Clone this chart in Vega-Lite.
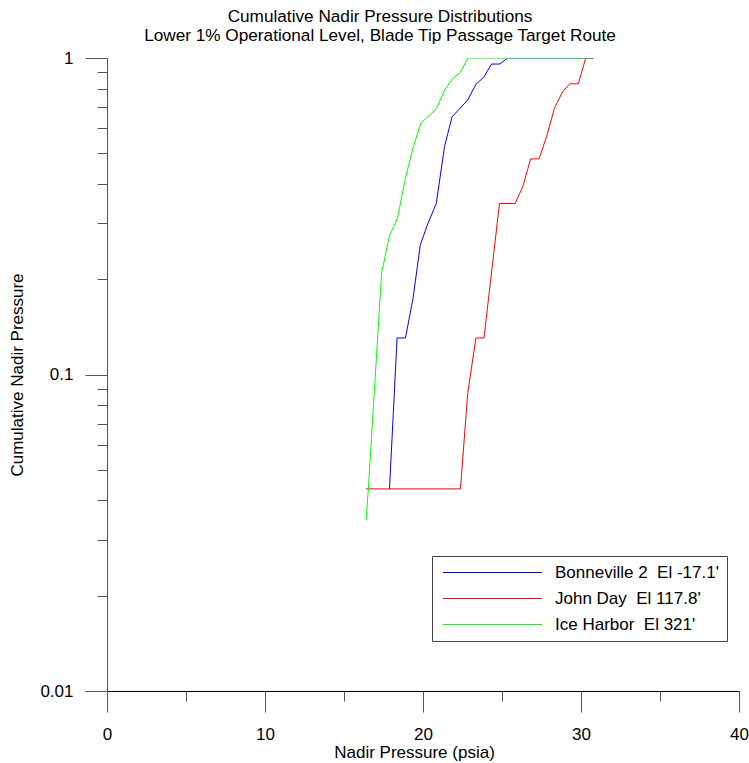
{
  "$schema": "https://vega.github.io/schema/vega-lite/v6.json",
  "autosize": {"type": "none"},
  "padding": {"left": 107, "top": 58, "right": 10, "bottom": 72},
  "width": 632,
  "height": 633,
  "background": "white",
  "config": {
    "font": "Liberation Sans",
    "view": {"stroke": null},
    "axis": {"grid": false, "domainColor": "#000", "tickColor": "#555", "labelColor": "#000", "titleColor": "#000", "labelFont": "Liberation Sans", "titleFont": "Liberation Sans", "labelFontSize": 17, "titleFontSize": 17, "titleFontWeight": "normal"}
  },
  "title": {
    "text": ["Cumulative Nadir Pressure Distributions", "Lower 1% Operational Level, Blade Tip Passage Target Route"],
    "fontSize": 17.2,
    "fontWeight": "normal",
    "font": "Liberation Sans",
    "color": "#000",
    "anchor": "middle",
    "lineHeight": 19,
    "offset": 5,
    "dx": -43
  },
  "data": {
    "values": [
      {"site": "Bonneville 2\u00a0 El -17.1'", "p": 17.88, "c": 0.0435},
      {"site": "Bonneville 2\u00a0 El -17.1'", "p": 18.36, "c": 0.1304},
      {"site": "Bonneville 2\u00a0 El -17.1'", "p": 18.89, "c": 0.1304},
      {"site": "Bonneville 2\u00a0 El -17.1'", "p": 19.37, "c": 0.174},
      {"site": "Bonneville 2\u00a0 El -17.1'", "p": 19.83, "c": 0.257},
      {"site": "Bonneville 2\u00a0 El -17.1'", "p": 20.31, "c": 0.300},
      {"site": "Bonneville 2\u00a0 El -17.1'", "p": 20.84, "c": 0.347},
      {"site": "Bonneville 2\u00a0 El -17.1'", "p": 21.36, "c": 0.524},
      {"site": "Bonneville 2\u00a0 El -17.1'", "p": 21.84, "c": 0.652},
      {"site": "Bonneville 2\u00a0 El -17.1'", "p": 22.35, "c": 0.694},
      {"site": "Bonneville 2\u00a0 El -17.1'", "p": 22.83, "c": 0.737},
      {"site": "Bonneville 2\u00a0 El -17.1'", "p": 23.35, "c": 0.826},
      {"site": "Bonneville 2\u00a0 El -17.1'", "p": 23.84, "c": 0.869},
      {"site": "Bonneville 2\u00a0 El -17.1'", "p": 24.34, "c": 0.957},
      {"site": "Bonneville 2\u00a0 El -17.1'", "p": 24.86, "c": 0.957},
      {"site": "Bonneville 2\u00a0 El -17.1'", "p": 25.35, "c": 1.0},
      {"site": "Bonneville 2\u00a0 El -17.1'", "p": 30.8, "c": 1.0},
      {"site": "John Day\u00a0 El 117.8'", "p": 16.40, "c": 0.0435},
      {"site": "John Day\u00a0 El 117.8'", "p": 22.37, "c": 0.0435},
      {"site": "John Day\u00a0 El 117.8'", "p": 22.83, "c": 0.0872},
      {"site": "John Day\u00a0 El 117.8'", "p": 23.35, "c": 0.1304},
      {"site": "John Day\u00a0 El 117.8'", "p": 23.86, "c": 0.1304},
      {"site": "John Day\u00a0 El 117.8'", "p": 24.84, "c": 0.347},
      {"site": "John Day\u00a0 El 117.8'", "p": 25.83, "c": 0.347},
      {"site": "John Day\u00a0 El 117.8'", "p": 26.33, "c": 0.394},
      {"site": "John Day\u00a0 El 117.8'", "p": 26.81, "c": 0.480},
      {"site": "John Day\u00a0 El 117.8'", "p": 27.34, "c": 0.480},
      {"site": "John Day\u00a0 El 117.8'", "p": 27.82, "c": 0.564},
      {"site": "John Day\u00a0 El 117.8'", "p": 28.32, "c": 0.694},
      {"site": "John Day\u00a0 El 117.8'", "p": 28.83, "c": 0.782},
      {"site": "John Day\u00a0 El 117.8'", "p": 29.29, "c": 0.829},
      {"site": "John Day\u00a0 El 117.8'", "p": 29.83, "c": 0.829},
      {"site": "John Day\u00a0 El 117.8'", "p": 30.30, "c": 1.0},
      {"site": "John Day\u00a0 El 117.8'", "p": 30.8, "c": 1.0},
      {"site": "Ice Harbor\u00a0 El 321'", "p": 16.40, "c": 0.0347},
      {"site": "Ice Harbor\u00a0 El 321'", "p": 16.54, "c": 0.0435},
      {"site": "Ice Harbor\u00a0 El 321'", "p": 17.38, "c": 0.209},
      {"site": "Ice Harbor\u00a0 El 321'", "p": 17.82, "c": 0.266},
      {"site": "Ice Harbor\u00a0 El 321'", "p": 17.94, "c": 0.279},
      {"site": "Ice Harbor\u00a0 El 321'", "p": 18.38, "c": 0.311},
      {"site": "Ice Harbor\u00a0 El 321'", "p": 18.89, "c": 0.417},
      {"site": "Ice Harbor\u00a0 El 321'", "p": 19.33, "c": 0.512},
      {"site": "Ice Harbor\u00a0 El 321'", "p": 19.86, "c": 0.622},
      {"site": "Ice Harbor\u00a0 El 321'", "p": 20.86, "c": 0.692},
      {"site": "Ice Harbor\u00a0 El 321'", "p": 21.36, "c": 0.792},
      {"site": "Ice Harbor\u00a0 El 321'", "p": 21.89, "c": 0.863},
      {"site": "Ice Harbor\u00a0 El 321'", "p": 22.35, "c": 0.899},
      {"site": "Ice Harbor\u00a0 El 321'", "p": 22.85, "c": 1.0},
      {"site": "Ice Harbor\u00a0 El 321'", "p": 30.8, "c": 1.0}
    ]
  },
  "mark": {"type": "line", "strokeWidth": 1, "clip": true},
  "encoding": {
    "x": {
      "field": "p", "type": "quantitative",
      "scale": {"domain": [0, 40], "nice": false, "zero": false},
      "axis": {
        "title": "Nadir Pressure (psia)",
        "titleX": 307,
        "values": [0, 5, 10, 15, 20, 25, 30, 35, 40],
        "labelExpr": "datum.value % 10 == 0 ? datum.label : ''",
        "tickSize": {"condition": {"test": "datum.value % 10 == 0", "value": 21}, "value": 10},
        "labelPadding": 14,
        "titlePadding": 2,
        "labelFlush": false,
        "labelOverlap": false
      }
    },
    "y": {
      "field": "c", "type": "quantitative",
      "scale": {"type": "log", "domain": [0.01, 1], "nice": false},
      "axis": {
        "title": "Cumulative Nadir Pressure",
        "domainColor": "#555",
        "values": [0.01, 0.02, 0.03, 0.04, 0.05, 0.06, 0.07, 0.08, 0.09, 0.1, 0.2, 0.3, 0.4, 0.5, 0.6, 0.7, 0.8, 0.9, 1],
        "labelExpr": "(datum.value == 1 || datum.value == 0.1 || datum.value == 0.01) ? datum.label : ''",
        "tickSize": {"condition": {"test": "datum.value == 1 || datum.value == 0.1 || datum.value == 0.01", "value": 22}, "value": 10},
        "labelPadding": 12,
        "titlePadding": 13,
        "labelFlush": false,
        "labelOverlap": false,
        "format": "~g"
      }
    },
    "color": {
      "field": "site", "type": "nominal",
      "scale": {"domain": ["Bonneville 2\u00a0 El -17.1'", "John Day\u00a0 El 117.8'", "Ice Harbor\u00a0 El 321'"], "range": ["#0000ff", "#ff0000", "#00ff00"]},
      "legend": {
        "title": null,
        "orient": "none",
        "legendX": 325,
        "legendY": 498,
        "symbolType": "M-6.6,0H6.6",
        "symbolSize": 225,
        "symbolStrokeWidth": 1,
        "symbolOffset": 44,
        "labelFontSize": 17,
        "labelFont": "Liberation Sans",
        "labelColor": "#000",
        "labelOffset": 54,
        "labelLimit": 400,
        "rowPadding": 8,
        "padding": 8,
        "strokeColor": "#444",
        "fillColor": "#fff"
      }
    }
  }
}
